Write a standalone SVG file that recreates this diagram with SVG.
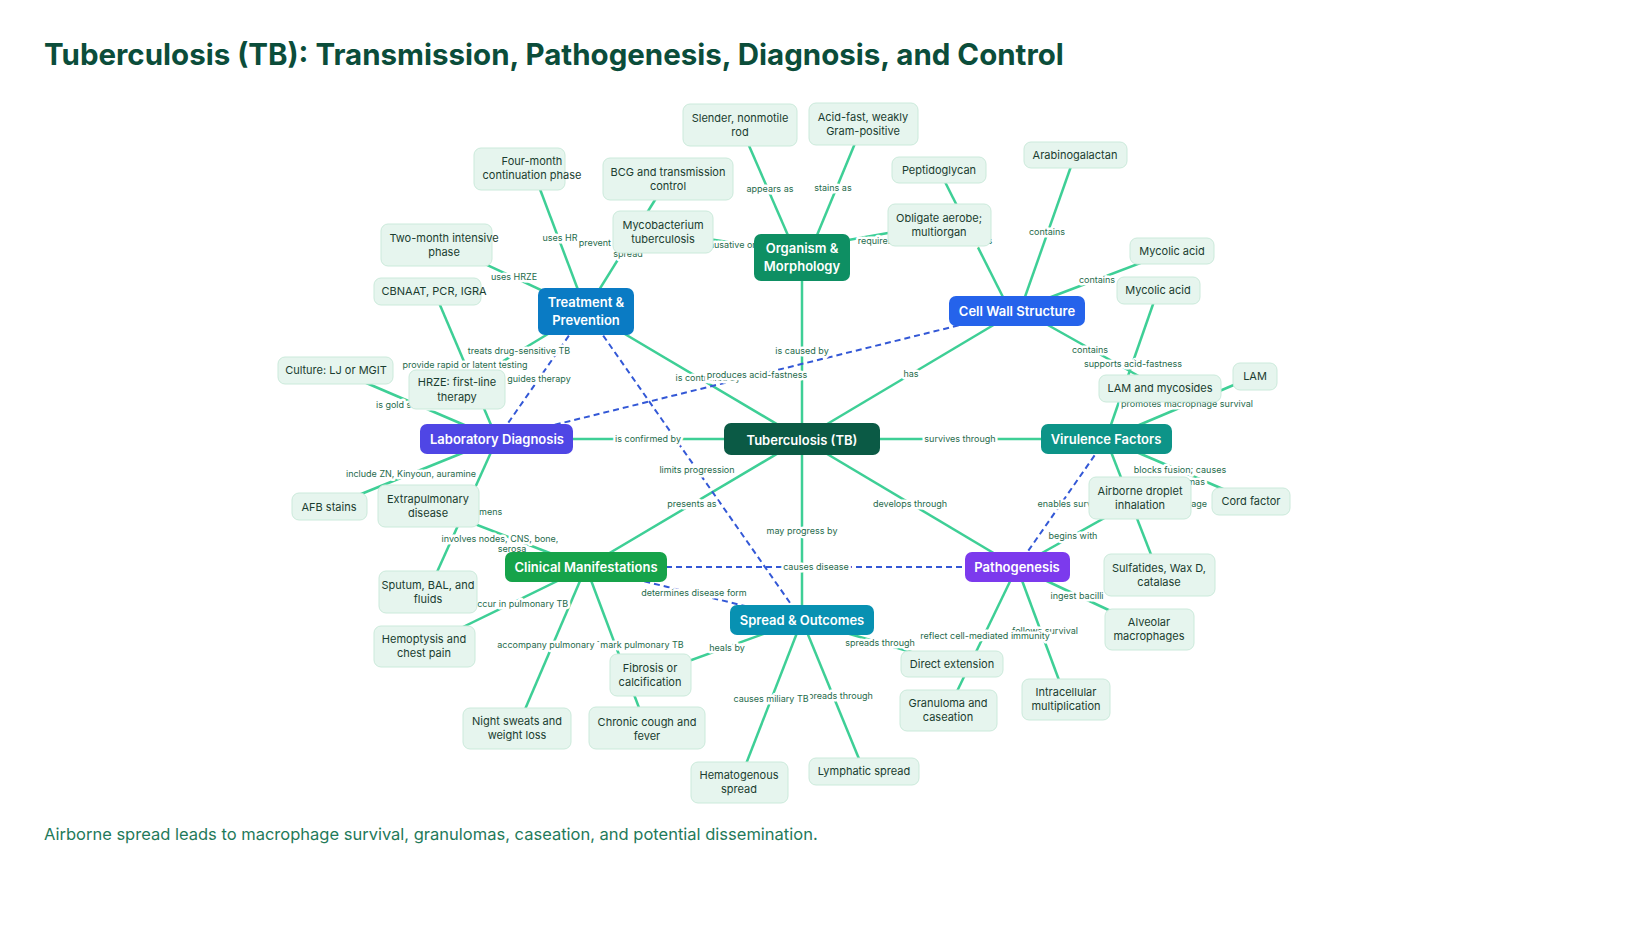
<svg xmlns="http://www.w3.org/2000/svg" width="1650" height="930" viewBox="0 0 1650 930">
<style>
.e{stroke:#3ecf96;stroke-width:2.5;fill:none}
.d{stroke:#3358d6;stroke-width:2;stroke-dasharray:6 4;fill:none}
.l{font-family:Inter,"Liberation Sans",sans-serif;font-size:9px;fill:#1f6b4c;text-anchor:middle;stroke:#fff;stroke-width:5;paint-order:stroke;stroke-linejoin:round}
.leaf rect{fill:#e6f5ee;stroke:#cbeadb;stroke-width:1}
.leaf text{font-family:Inter,"Liberation Sans",sans-serif;font-size:11px;fill:#1a3d30;text-anchor:middle}
.main text{font-family:Inter,"Liberation Sans",sans-serif;font-size:13px;font-weight:600;fill:#fff;text-anchor:middle}
</style>
<rect width="1650" height="930" fill="#fff"/>
<text x="44" y="65" font-family="Inter,'Liberation Sans',sans-serif" font-size="29.5" font-weight="700" fill="#0b4d3a">Tuberculosis (TB): Transmission, Pathogenesis, Diagnosis, and Control</text>
<text x="44" y="840" font-family="Inter,'Liberation Sans',sans-serif" font-size="16.5" fill="#1f7a5a">Airborne spread leads to macrophage survival, granulomas, caseation, and potential dissemination.</text>
<g id="connectors">
<line class="e" x1="802" y1="439" x2="802" y2="257"/>
<line class="e" x1="802" y1="439" x2="586" y2="311"/>
<line class="e" x1="802" y1="439" x2="1017" y2="311"/>
<line class="e" x1="802" y1="439" x2="497" y2="439"/>
<line class="e" x1="802" y1="439" x2="1106" y2="439"/>
<line class="e" x1="802" y1="439" x2="586" y2="567"/>
<line class="e" x1="802" y1="439" x2="1017" y2="567"/>
<line class="e" x1="802" y1="439" x2="802" y2="620"/>
<line class="e" x1="790" y1="240" x2="740" y2="125"/>
<line class="e" x1="815" y1="240" x2="863" y2="124"/>
<line class="e" x1="780" y1="250" x2="663" y2="232"/>
<line class="e" x1="820" y1="245" x2="939" y2="224"/>
<line class="e" x1="1010" y1="311" x2="939" y2="170"/>
<line class="e" x1="1020" y1="311" x2="1075" y2="155"/>
<line class="e" x1="1030" y1="305" x2="1172" y2="251"/>
<line class="e" x1="1030" y1="315" x2="1160" y2="388"/>
<line class="e" x1="1106" y1="439" x2="1158" y2="290"/>
<line class="e" x1="1106" y1="439" x2="1255" y2="376"/>
<line class="e" x1="1106" y1="439" x2="1251" y2="501"/>
<line class="e" x1="1106" y1="439" x2="1159" y2="575"/>
<line class="e" x1="1017" y1="567" x2="1140" y2="498"/>
<line class="e" x1="1017" y1="567" x2="1149" y2="629"/>
<line class="e" x1="1017" y1="567" x2="1066" y2="699"/>
<line class="e" x1="1017" y1="567" x2="948" y2="710"/>
<line class="e" x1="802" y1="620" x2="952" y2="664"/>
<line class="e" x1="802" y1="620" x2="864" y2="771"/>
<line class="e" x1="802" y1="620" x2="739" y2="782"/>
<line class="e" x1="802" y1="620" x2="650" y2="675"/>
<line class="e" x1="586" y1="567" x2="517" y2="728"/>
<line class="e" x1="586" y1="567" x2="647" y2="729"/>
<line class="e" x1="586" y1="567" x2="424" y2="646"/>
<line class="e" x1="586" y1="567" x2="428" y2="506"/>
<line class="e" x1="497" y1="439" x2="329" y2="507"/>
<line class="e" x1="497" y1="439" x2="428" y2="592"/>
<line class="e" x1="497" y1="439" x2="336" y2="370"/>
<line class="e" x1="497" y1="439" x2="434" y2="291"/>
<line class="e" x1="586" y1="311" x2="457" y2="389"/>
<line class="e" x1="586" y1="311" x2="444" y2="245"/>
<line class="e" x1="586" y1="311" x2="532" y2="168"/>
<line class="e" x1="586" y1="311" x2="668" y2="179"/>
<line class="d" x1="1106" y1="439" x2="1017" y2="567"/>
<line class="d" x1="586" y1="567" x2="1017" y2="567"/>
<line class="d" x1="586" y1="567" x2="802" y2="620"/>
<line class="d" x1="586" y1="311" x2="802" y2="620"/>
<line class="d" x1="586" y1="311" x2="497" y2="439"/>
<line class="d" x1="1017" y1="311" x2="497" y2="439"/>
</g>
<g id="labels">
<text class="l" x="802" y="354">is caused by</text>
<text class="l" x="708" y="381">is controlled by</text>
<text class="l" x="911" y="377">has</text>
<text class="l" x="648" y="442">is confirmed by</text>
<text class="l" x="960" y="442">survives through</text>
<text class="l" x="692" y="507">presents as</text>
<text class="l" x="910" y="507">develops through</text>
<text class="l" x="802" y="534">may progress by</text>
<text class="l" x="770" y="192">appears as</text>
<text class="l" x="833" y="191">stains as</text>
<text class="l" x="745" y="248">causative organism</text>
<text class="l" x="925" y="244">requires oxygen; affects organs</text>
<text class="l" x="1047" y="235">contains</text>
<text class="l" x="1097" y="283">contains</text>
<text class="l" x="1090" y="353">contains</text>
<text class="l" x="1133" y="367">supports acid-fastness</text>
<text class="l" x="1187" y="407">promotes macrophage survival</text>
<text class="l" x="1180" y="473">blocks fusion; causes</text>
<text class="l" x="1180" y="485">granulomas</text>
<text class="l" x="1150" y="507">protect inside macrophage</text>
<text class="l" x="1072" y="507">enables survival</text>
<text class="l" x="1073" y="539">begins with</text>
<text class="l" x="1077" y="599">ingest bacilli</text>
<text class="l" x="1045" y="634">follows survival</text>
<text class="l" x="985" y="639">reflect cell-mediated immunity</text>
<text class="l" x="880" y="646">spreads through</text>
<text class="l" x="838" y="699">spreads through</text>
<text class="l" x="771" y="702">causes miliary TB</text>
<text class="l" x="727" y="651">heals by</text>
<text class="l" x="694" y="596">determines disease form</text>
<text class="l" x="816" y="570">causes disease</text>
<text class="l" x="697" y="473">limits progression</text>
<text class="l" x="539" y="382">guides therapy</text>
<text class="l" x="757" y="378">produces acid-fastness</text>
<text class="l" x="553" y="648">accompany pulmonary TB</text>
<text class="l" x="642" y="648">mark pulmonary TB</text>
<text class="l" x="520" y="607">occur in pulmonary TB</text>
<text class="l" x="500" y="542">involves nodes, CNS, bone,</text>
<text class="l" x="512" y="552">serosa</text>
<text class="l" x="411" y="477">include ZN, Kinyoun, auramine</text>
<text class="l" x="468" y="515">uses specimens</text>
<text class="l" x="410" y="408">is gold standard</text>
<text class="l" x="465" y="368">provide rapid or latent testing</text>
<text class="l" x="519" y="354">treats drug-sensitive TB</text>
<text class="l" x="514" y="280">uses HRZE</text>
<text class="l" x="560" y="241">uses HR</text>
<text class="l" x="624" y="246">prevent severe forms</text>
<text class="l" x="628" y="257">spread</text>
</g>
<g id="n-tb" class="main"><rect x="724" y="423" width="156" height="32" rx="7" fill="#0b5a45"/><text x="802" y="445" font-size="16">Tuberculosis (TB)</text></g>
<g id="n-org" class="main"><rect x="754" y="234" width="96" height="47" rx="7" fill="#0e8f63"/><text x="802" y="253">Organism &amp;</text><text x="802" y="271">Morphology</text></g>
<g id="n-treat" class="main"><rect x="538" y="288" width="96" height="47" rx="7" fill="#0a7bc4"/><text x="586" y="307">Treatment &amp;</text><text x="586" y="325">Prevention</text></g>
<g id="n-cell" class="main"><rect x="949" y="296" width="136" height="30" rx="7" fill="#2563eb"/><text x="1017" y="316">Cell Wall Structure</text></g>
<g id="n-lab" class="main"><rect x="420" y="424" width="153" height="30" rx="7" fill="#4f46e5"/><text x="497" y="444">Laboratory Diagnosis</text></g>
<g id="n-vir" class="main"><rect x="1041" y="424" width="131" height="30" rx="7" fill="#0d9488"/><text x="1106" y="444">Virulence Factors</text></g>
<g id="n-clin" class="main"><rect x="505" y="552" width="162" height="30" rx="7" fill="#16a34a"/><text x="586" y="572">Clinical Manifestations</text></g>
<g id="n-path" class="main"><rect x="965" y="552" width="105" height="30" rx="7" fill="#7c3aed"/><text x="1017" y="572">Pathogenesis</text></g>
<g id="n-spread" class="main"><rect x="730" y="605" width="144" height="30" rx="7" fill="#0891b2"/><text x="802" y="625">Spread &amp; Outcomes</text></g>
<g id="l-rod" class="leaf"><rect x="683" y="104" width="114" height="42" rx="7"/><text x="740" y="122">Slender, nonmotile</text><text x="740" y="136">rod</text></g>
<g id="l-acid" class="leaf"><rect x="809" y="103" width="109" height="42" rx="7"/><text x="863" y="121">Acid-fast, weakly</text><text x="863" y="135">Gram-positive</text></g>
<g id="l-pept" class="leaf"><rect x="892" y="157" width="94" height="26" rx="7"/><text x="939" y="174">Peptidoglycan</text></g>
<g id="l-arab" class="leaf"><rect x="1024" y="142" width="103" height="26" rx="7"/><text x="1075" y="159">Arabinogalactan</text></g>
<g id="l-aer" class="leaf"><rect x="888" y="204" width="103" height="42" rx="7"/><text x="939" y="222">Obligate aerobe;</text><text x="939" y="236">multiorgan</text></g>
<g id="l-my1" class="leaf"><rect x="1130" y="238" width="84" height="26" rx="7"/><text x="1172" y="255">Mycolic acid</text></g>
<g id="l-my2" class="leaf"><rect x="1117" y="277" width="83" height="27" rx="7"/><text x="1158" y="294">Mycolic acid</text></g>
<g id="l-lam" class="leaf"><rect x="1233" y="363" width="44" height="27" rx="7"/><text x="1255" y="380">LAM</text></g>
<g id="l-lamm" class="leaf"><rect x="1099" y="375" width="122" height="27" rx="7"/><text x="1160" y="392">LAM and mycosides</text></g>
<g id="l-cord" class="leaf"><rect x="1212" y="488" width="78" height="27" rx="7"/><text x="1251" y="505">Cord factor</text></g>
<g id="l-air" class="leaf"><rect x="1089" y="477" width="102" height="42" rx="7"/><text x="1140" y="495">Airborne droplet</text><text x="1140" y="509">inhalation</text></g>
<g id="l-sulf" class="leaf"><rect x="1104" y="554" width="111" height="42" rx="7"/><text x="1159" y="572">Sulfatides, Wax D,</text><text x="1159" y="586">catalase</text></g>
<g id="l-alv" class="leaf"><rect x="1105" y="609" width="89" height="41" rx="7"/><text x="1149" y="626">Alveolar</text><text x="1149" y="640">macrophages</text></g>
<g id="l-intra" class="leaf"><rect x="1022" y="679" width="88" height="41" rx="7"/><text x="1066" y="696">Intracellular</text><text x="1066" y="710">multiplication</text></g>
<g id="l-direct" class="leaf"><rect x="901" y="651" width="102" height="26" rx="7"/><text x="952" y="668">Direct extension</text></g>
<g id="l-gran" class="leaf"><rect x="900" y="690" width="97" height="41" rx="7"/><text x="948" y="707">Granuloma and</text><text x="948" y="721">caseation</text></g>
<g id="l-lymph" class="leaf"><rect x="809" y="758" width="110" height="27" rx="7"/><text x="864" y="775">Lymphatic spread</text></g>
<g id="l-hema" class="leaf"><rect x="691" y="762" width="97" height="41" rx="7"/><text x="739" y="779">Hematogenous</text><text x="739" y="793">spread</text></g>
<g id="l-fib" class="leaf"><rect x="610" y="654" width="81" height="42" rx="7"/><text x="650" y="672">Fibrosis or</text><text x="650" y="686">calcification</text></g>
<g id="l-cough" class="leaf"><rect x="589" y="707" width="116" height="42" rx="7"/><text x="647" y="726">Chronic cough and</text><text x="647" y="740">fever</text></g>
<g id="l-night" class="leaf"><rect x="463" y="708" width="108" height="41" rx="7"/><text x="517" y="725">Night sweats and</text><text x="517" y="739">weight loss</text></g>
<g id="l-hemo" class="leaf"><rect x="374" y="626" width="101" height="41" rx="7"/><text x="424" y="643">Hemoptysis and</text><text x="424" y="657">chest pain</text></g>
<g id="l-sput" class="leaf"><rect x="379" y="571" width="98" height="42" rx="7"/><text x="428" y="589">Sputum, BAL, and</text><text x="428" y="603">fluids</text></g>
<g id="l-afb" class="leaf"><rect x="292" y="493" width="75" height="27" rx="7"/><text x="329" y="511">AFB stains</text></g>
<g id="l-extra" class="leaf"><rect x="378" y="485" width="101" height="42" rx="7"/><text x="428" y="503">Extrapulmonary</text><text x="428" y="517">disease</text></g>
<g id="l-cult" class="leaf"><rect x="278" y="357" width="115" height="27" rx="7"/><text x="336" y="374">Culture: LJ or MGIT</text></g>
<g id="l-hrze" class="leaf"><rect x="409" y="370" width="96" height="39" rx="7"/><text x="457" y="386">HRZE: first-line</text><text x="457" y="401">therapy</text></g>
<g id="l-cbn" class="leaf"><rect x="374" y="278" width="107" height="27" rx="7"/><text x="434" y="295">CBNAAT, PCR, IGRA</text></g>
<g id="l-two" class="leaf"><rect x="381" y="224" width="111" height="42" rx="7"/><text x="444" y="242">Two-month intensive</text><text x="444" y="256">phase</text></g>
<g id="l-four" class="leaf"><rect x="474" y="148" width="91" height="42" rx="7"/><text x="532" y="165">Four-month</text><text x="532" y="179">continuation phase</text></g>
<g id="l-bcg" class="leaf"><rect x="603" y="158" width="130" height="42" rx="7"/><text x="668" y="176">BCG and transmission</text><text x="668" y="190">control</text></g>
<g id="l-myco" class="leaf"><rect x="613" y="211" width="100" height="42" rx="7"/><text x="663" y="229">Mycobacterium</text><text x="663" y="243">tuberculosis</text></g>
</svg>
